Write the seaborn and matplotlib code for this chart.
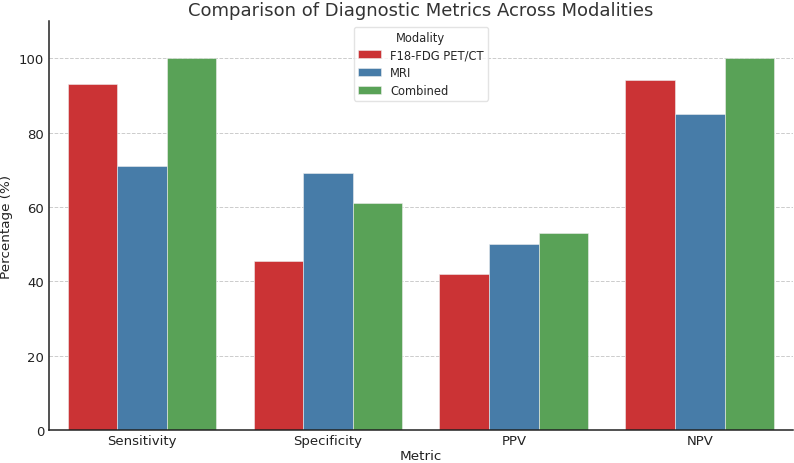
import pandas as pd
import matplotlib.pyplot as plt
import seaborn as sns

metrics = ['Sensitivity', 'Specificity', 'PPV', 'NPV']
modalities = ['F18-FDG PET/CT', 'MRI', 'Combined']
pet_ct = [93, 45.5, 42, 94]
mri = [71, 69, 50, 85]
combined = [100, 61, 53, 100]

rows = []
for name, vals in zip(modalities, [pet_ct, mri, combined]):
    for m, v in zip(metrics, vals):
        rows.append({'Metric': m, 'Percentage': v, 'Modality': name})
df = pd.DataFrame(rows)

sns.set_style('white')
plt.rcParams['font.family'] = ['DejaVu Sans']

fig = plt.figure(figsize=(7.94, 4.64), dpi=100)
ax = fig.add_axes([0.0617, 0.0711, 0.9367, 0.8815])

sns.barplot(data=df, x='Metric', y='Percentage', hue='Modality',
            order=metrics, hue_order=modalities, palette='Set1', ax=ax,
            linewidth=0.4, edgecolor='#eeeeee')

ax.set_ylim(0, 110)
ax.set_yticks([0, 20, 40, 60, 80, 100])
ax.yaxis.grid(True, linestyle='--', color='#cccccc', linewidth=0.7)
ax.set_axisbelow(True)
for side in ['top', 'right']:
    ax.spines[side].set_visible(False)
for side in ['left', 'bottom']:
    ax.spines[side].set_color('#222222')
    ax.spines[side].set_linewidth(1.1)

ax.tick_params(axis='x', direction='in', length=4, labelsize=9.5, colors='#222222', pad=3)
ax.tick_params(axis='y', length=0, labelsize=9.5, colors='#222222')
ax.set_xlabel('Metric', fontsize=9.7, color='#222222', labelpad=1)
ax.set_ylabel('Percentage (%)', fontsize=9.7, color='#222222')
ax.set_title('Comparison of Diagnostic Metrics Across Modalities', fontsize=13, color='#333333', pad=4)

leg = ax.legend(title='Modality', loc='upper center', fontsize=8.3, title_fontsize=8.3,
                labelspacing=0.4, borderpad=0.35)
leg.get_frame().set_edgecolor('#dddddd')

fig.savefig('out.png', dpi=100)
